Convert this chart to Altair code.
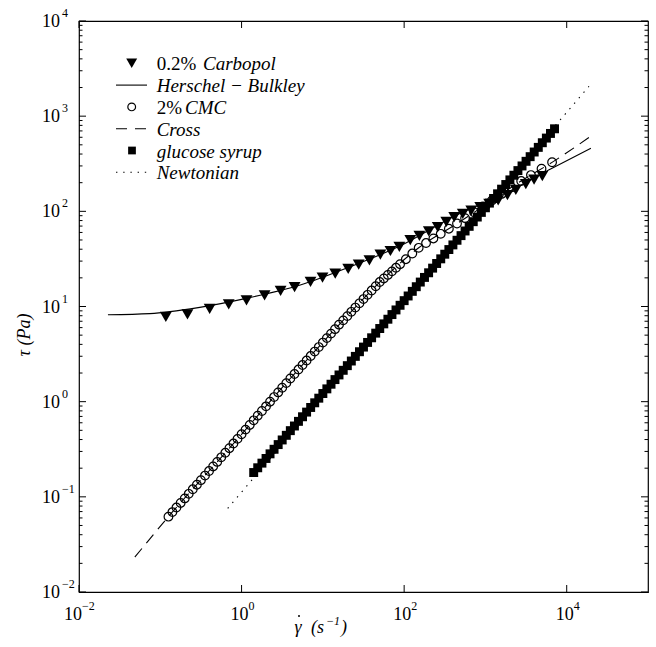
import altair as alt
import pandas as pd

# ---------------- data ----------------
carbopol_x = [0.117, 0.216, 0.405, 0.695, 1.15, 1.92, 3.02, 4.49, 7.05, 9.9, 14.2, 20.5, 27.6, 37.4, 51.0,
              67.8, 87.3, 119, 154, 201, 259, 330, 413, 526, 669, 863, 1112, 1435, 1866, 2366, 3140, 3966, 5012]
carbopol_y = [7.76, 8.27, 9.46, 10.5, 11.6, 13.1, 14.6, 16.0, 18.1, 20.1, 22.2, 24.8, 27.6, 30.5, 35.1,
              38.3, 42.2, 49.7, 55.3, 61.7, 68.4, 77.3, 87.1, 94.2, 102, 111, 120, 130, 148, 168, 193, 215, 235]

hb_x = [0.0227, 0.0744, 0.306, 1.257, 5.16, 21.2, 87.3, 413, 1849, 6607, 19860]
hb_y = [8.18, 8.41, 9.8, 12.4, 16.7, 26.0, 42.9, 88.7, 158, 283, 459]

cmc_x = [0.126, 0.141, 0.158, 0.178, 0.200, 0.224, 0.251, 0.282, 0.316, 0.355, 0.398, 0.447, 0.501, 0.562,
         0.631, 0.708, 0.794, 0.891, 1.00, 1.12, 1.26, 1.41, 1.58, 1.78, 2.00, 2.24, 2.51, 2.82, 3.16, 3.55,
         3.98, 4.47, 5.01, 5.62, 6.31, 7.08, 7.94, 8.91, 10.0, 11.2, 12.6, 14.1, 15.8, 17.8, 20.0, 22.4, 25.1,
         28.2, 31.6, 35.5, 39.8, 44.7, 50.1, 56.2, 63.1, 70.8, 79.4, 89.1, 105, 126, 151, 186, 229, 282, 355,
         447, 562, 724, 933, 1202, 1585, 2089, 2754, 3631, 4898, 6607]
cmc_y = [0.0619, 0.0691, 0.0772, 0.0862, 0.0963, 0.1075, 0.1201, 0.1341, 0.1497, 0.1672, 0.1867, 0.2085,
         0.2329, 0.2601, 0.2904, 0.3243, 0.3631, 0.4064, 0.4546, 0.5085, 0.5691, 0.6369, 0.7129, 0.7979,
         0.8927, 0.9989, 1.118, 1.251, 1.400, 1.566, 1.752, 1.952, 2.177, 2.426, 2.705, 3.015, 3.360, 3.746,
         4.176, 4.654, 5.188, 5.782, 6.447, 7.149, 7.925, 8.787, 9.741, 10.80, 11.97, 13.27, 14.72, 16.32,
         18.07, 19.70, 21.47, 23.40, 25.51, 27.81, 31.38, 36.04, 41.35, 46.43, 51.89, 58.00, 65.66, 74.49,
         84.81, 97.79, 112.8, 130.2, 152.4, 178.4, 208.2, 240.4, 280.7, 328.0]

cross_x = [0.0487, 0.124, 0.714, 3.90, 16.0, 49.7, 154, 413, 1112, 2594, 6592, 19700]
cross_y = [0.0233, 0.061, 0.327, 1.72, 6.50, 17.9, 41.9, 71.3, 124, 202, 327, 614]

glucose_x = [1.41, 1.58, 1.78, 2.00, 2.24, 2.51, 2.82, 3.16, 3.55, 3.98, 4.47, 5.01, 5.62, 6.31, 7.08, 7.94, 8.91,
             10.0, 11.2, 12.6, 14.1, 15.8, 17.8, 20.0, 22.4, 25.1, 28.2, 31.6, 35.5, 39.8, 44.7, 50.1, 56.2, 63.1,
             70.8, 79.4, 89.1, 100, 112, 126, 141, 158, 178, 200, 224, 251, 282, 316, 355, 398, 447, 501, 562,
             631, 708, 794, 891, 1000, 1120, 1260, 1410, 1580, 1780, 2000, 2240, 2510, 2820, 3160, 3550, 3980,
             4470, 5010, 5620, 6310, 7080]
glucose_y = [0.180, 0.202, 0.226, 0.253, 0.283, 0.316, 0.354, 0.396, 0.443, 0.496, 0.555, 0.621, 0.694, 0.777,
             0.869, 0.973, 1.088, 1.218, 1.363, 1.525, 1.706, 1.909, 2.136, 2.390, 2.674, 2.992, 3.348, 3.746,
             4.192, 4.690, 5.248, 5.872, 6.570, 7.351, 8.226, 9.204, 10.30, 11.52, 12.90, 14.43, 16.14, 18.06,
             20.21, 22.61, 25.30, 28.31, 31.68, 35.44, 39.66, 44.38, 49.66, 55.56, 62.17, 69.56, 77.84, 87.10,
             97.46, 109.0, 122.0, 136.5, 152.8, 171.0, 191.3, 214.0, 239.5, 268.0, 299.9, 335.5, 375.4, 420.1,
             470.0, 525.9, 588.5, 658.4, 736.7]

newton_x = [0.675, 18800]
newton_y = [0.0757, 2061]

# axis ticks and labels
x_major = [0.01, 1, 100, 10000]
x_exps = ["\u22122", "0", "2", "4"]
y_major = [0.01, 0.1, 1, 10, 100, 1000, 10000]
y_exps = ["\u22122", "\u22121", "0", "1", "2", "3", "4"]
y_minor = [0.02, 0.03, 0.04, 0.05, 0.06, 0.07, 0.08, 0.09,
           0.2, 0.3, 0.4, 0.5, 0.6, 0.7, 0.8, 0.9,
           2, 3, 4, 5, 6, 7, 8, 9,
           20, 30, 40, 50, 60, 70, 80, 90,
           200, 300, 400, 500, 600, 700, 800, 900,
           2000, 3000, 4000, 5000, 6000, 7000, 8000, 9000]

legend_rows = [0, 1, 2, 3, 4, 5]
legend_prefix = ["0.2%", "", "2%", "", "", ""]
legend_labels = ["Carbopol", "Herschel \u2212 Bulkley", "CMC", "Cross", "glucose syrup", "Newtonian"]

# x title pieces: gamma (with a dot drawn above it), "(s", exponent, ")"
x_title_gamma = "\u03b3"
x_title_open = "(s"
x_title_exp = "\u22121"
x_title_close = ")"
y_title = "\u03c4  (Pa)"

# ---------------- chart ----------------
W, H = 569, 571
SERIF = "Liberation Serif"
xs = alt.Scale(type="log", domain=[0.01, 100000], nice=False)
ys = alt.Scale(type="log", domain=[0.01, 10000], nice=False)
LY = alt.Y("row:Q", scale=alt.Scale(domain=[0, 5], range=[42.3, 151.3]), axis=None)


def X(f):
    return alt.X(f, type="quantitative", scale=xs, axis=None)


def Y(f):
    return alt.Y(f, type="quantitative", scale=ys, axis=None)


carb = pd.DataFrame({"x": carbopol_x, "y": carbopol_y})
hb = pd.DataFrame({"x": hb_x, "y": hb_y})
cmc = pd.DataFrame({"x": cmc_x, "y": cmc_y})
cross = pd.DataFrame({"x": cross_x, "y": cross_y})
glu = pd.DataFrame({"x": glucose_x, "y": glucose_y})
newt = pd.DataFrame({"x": newton_x, "y": newton_y})
xt = pd.DataFrame({"v": x_major, "e": x_exps})
yt = pd.DataFrame({"v": y_major, "e": y_exps})
ym = pd.DataFrame({"v": y_minor})
leg = pd.DataFrame({"row": legend_rows, "pre": legend_prefix, "lab": legend_labels})
titles = pd.DataFrame({"g": [x_title_gamma], "o": [x_title_open],
                       "e": [x_title_exp], "c": [x_title_close], "yt": [y_title]})

layers = []

# series
layers.append(alt.Chart(glu).mark_point(shape="square", filled=True, size=80, color="black", opacity=1)
              .encode(x=X("x"), y=Y("y")))
layers.append(alt.Chart(newt).mark_line(color="black", strokeWidth=1.1, strokeDash=[1.4, 5.8])
              .encode(x=X("x"), y=Y("y")))
layers.append(alt.Chart(hb).mark_line(color="black", strokeWidth=1.1, interpolate="monotone")
              .encode(x=X("x"), y=Y("y")))
layers.append(alt.Chart(carb).mark_point(shape="triangle-down", filled=True, size=140, color="black", opacity=1)
              .encode(x=X("x"), y=Y("y")))
layers.append(alt.Chart(cross).mark_line(color="black", strokeWidth=1.1, strokeDash=[11, 7], interpolate="monotone")
              .encode(x=X("x"), y=Y("y")))
layers.append(alt.Chart(cmc).mark_point(shape="circle", filled=False, size=75, color="black", strokeWidth=1.2,
                                        opacity=1)
              .encode(x=X("x"), y=Y("y")))

# inward ticks
tick = dict(color="black", strokeWidth=1)
layers.append(alt.Chart(yt).mark_rule(**tick).encode(y=Y("v"), x=alt.value(0), x2=alt.value(7)))
layers.append(alt.Chart(yt).mark_rule(**tick).encode(y=Y("v"), x=alt.value(W - 7), x2=alt.value(W)))
layers.append(alt.Chart(ym).mark_rule(**tick).encode(y=Y("v"), x=alt.value(0), x2=alt.value(3.5)))
layers.append(alt.Chart(ym).mark_rule(**tick).encode(y=Y("v"), x=alt.value(W - 3.5), x2=alt.value(W)))
layers.append(alt.Chart(xt).mark_rule(**tick).encode(x=X("v"), y=alt.value(H - 7), y2=alt.value(H)))
layers.append(alt.Chart(xt).mark_rule(**tick).encode(x=X("v"), y=alt.value(0), y2=alt.value(7)))

# tick labels
lab = dict(font=SERIF, fontSize=18, color="black")
exp = dict(font=SERIF, fontSize=12, color="black")
layers.append(alt.Chart(yt).mark_text(align="left", baseline="alphabetic", dy=6, **lab)
              .encode(x=alt.value(-37), y=Y("v"), text=alt.value("10")))
layers.append(alt.Chart(yt).mark_text(align="left", baseline="alphabetic", dy=-4, **exp)
              .encode(x=alt.value(-17), y=Y("v"), text="e:N"))
layers.append(alt.Chart(xt).transform_filter("datum.v > 0.05")
              .mark_text(align="right", baseline="alphabetic", dx=7, **lab)
              .encode(x=X("v"), y=alt.value(H + 28), text=alt.value("10")))
layers.append(alt.Chart(xt).transform_filter("datum.v > 0.05")
              .mark_text(align="left", baseline="alphabetic", dx=7, **exp)
              .encode(x=X("v"), y=alt.value(H + 18), text="e:N"))
layers.append(alt.Chart(xt).transform_filter("datum.v < 0.05")
              .mark_text(align="right", baseline="alphabetic", dx=3, **lab)
              .encode(x=X("v"), y=alt.value(H + 28), text=alt.value("10")))
layers.append(alt.Chart(xt).transform_filter("datum.v < 0.05")
              .mark_text(align="left", baseline="alphabetic", dx=3, **exp)
              .encode(x=X("v"), y=alt.value(H + 18), text="e:N"))

# axis titles
ttl = dict(font=SERIF, fontSize=18, fontStyle="italic", color="black", baseline="alphabetic")
layers.append(alt.Chart(titles).mark_text(align="center", **ttl)
              .encode(x=alt.value(219), y=alt.value(H + 41), text="g:N"))
layers.append(alt.Chart(titles).mark_point(shape="circle", filled=True, size=4, color="black", opacity=1)
              .encode(x=alt.value(220), y=alt.value(H + 24)))
layers.append(alt.Chart(titles).mark_text(align="left", **ttl)
              .encode(x=alt.value(232), y=alt.value(H + 41), text="o:N"))
layers.append(alt.Chart(titles).mark_text(align="left", font=SERIF, fontSize=12, fontStyle="italic",
                                          color="black", baseline="alphabetic")
              .encode(x=alt.value(247), y=alt.value(H + 33), text="e:N"))
layers.append(alt.Chart(titles).mark_text(align="left", **ttl)
              .encode(x=alt.value(262), y=alt.value(H + 41), text="c:N"))
layers.append(alt.Chart(titles).mark_text(align="center", baseline="middle", angle=270, font=SERIF, fontSize=18,
                                          fontStyle="italic", color="black")
              .encode(x=alt.value(-54), y=alt.value(314), text="yt:N"))

# legend
layers.append(alt.Chart(leg).transform_filter("datum.row == 0")
              .mark_point(shape="triangle-down", filled=True, size=120, color="black", opacity=1)
              .encode(x=alt.value(52.7), y=LY))
layers.append(alt.Chart(leg).transform_filter("datum.row == 2")
              .mark_point(shape="circle", filled=False, size=60, color="black", strokeWidth=1.2, opacity=1)
              .encode(x=alt.value(52.7), y=LY))
layers.append(alt.Chart(leg).transform_filter("datum.row == 4")
              .mark_point(shape="square", filled=True, size=60, color="black", opacity=1)
              .encode(x=alt.value(53), y=LY))
layers.append(alt.Chart(leg).transform_filter("datum.row == 1")
              .mark_rule(color="black", strokeWidth=1.1)
              .encode(x=alt.value(37), x2=alt.value(68), y=LY))
layers.append(alt.Chart(leg).transform_filter("datum.row == 3")
              .mark_rule(color="black", strokeWidth=1.1, strokeDash=[11, 8])
              .encode(x=alt.value(37), x2=alt.value(68), y=LY))
layers.append(alt.Chart(leg).transform_filter("datum.row == 5")
              .mark_rule(color="black", strokeWidth=1.1, strokeDash=[1.4, 5.8])
              .encode(x=alt.value(37), x2=alt.value(68), y=LY))
ltxt = dict(font=SERIF, fontSize=19, color="black", baseline="middle", align="left", dy=1)
layers.append(alt.Chart(leg).transform_filter("datum.row == 0 || datum.row == 2")
              .mark_text(**ltxt).encode(x=alt.value(77.7), y=LY, text="pre:N"))
layers.append(alt.Chart(leg).transform_filter("datum.row != 0 && datum.row != 2")
              .mark_text(fontStyle="italic", **ltxt).encode(x=alt.value(77.7), y=LY, text="lab:N"))
layers.append(alt.Chart(leg).transform_filter("datum.row == 0")
              .mark_text(fontStyle="italic", **ltxt).encode(x=alt.value(124), y=LY, text="lab:N"))
layers.append(alt.Chart(leg).transform_filter("datum.row == 2")
              .mark_text(fontStyle="italic", **ltxt).encode(x=alt.value(106), y=LY, text="lab:N"))

chart = (
    alt.layer(*layers)
    .resolve_scale(y="independent")
    .properties(
        width=W,
        height=H,
        padding={"left": 79, "top": 21, "right": 8, "bottom": 55},
        autosize=alt.AutoSizeParams(type="none"),
        background="white",
    )
    .configure_view(stroke="black", strokeWidth=1.2)
)

chart.save("out.html", embed_options={"renderer": "svg", "actions": False})
